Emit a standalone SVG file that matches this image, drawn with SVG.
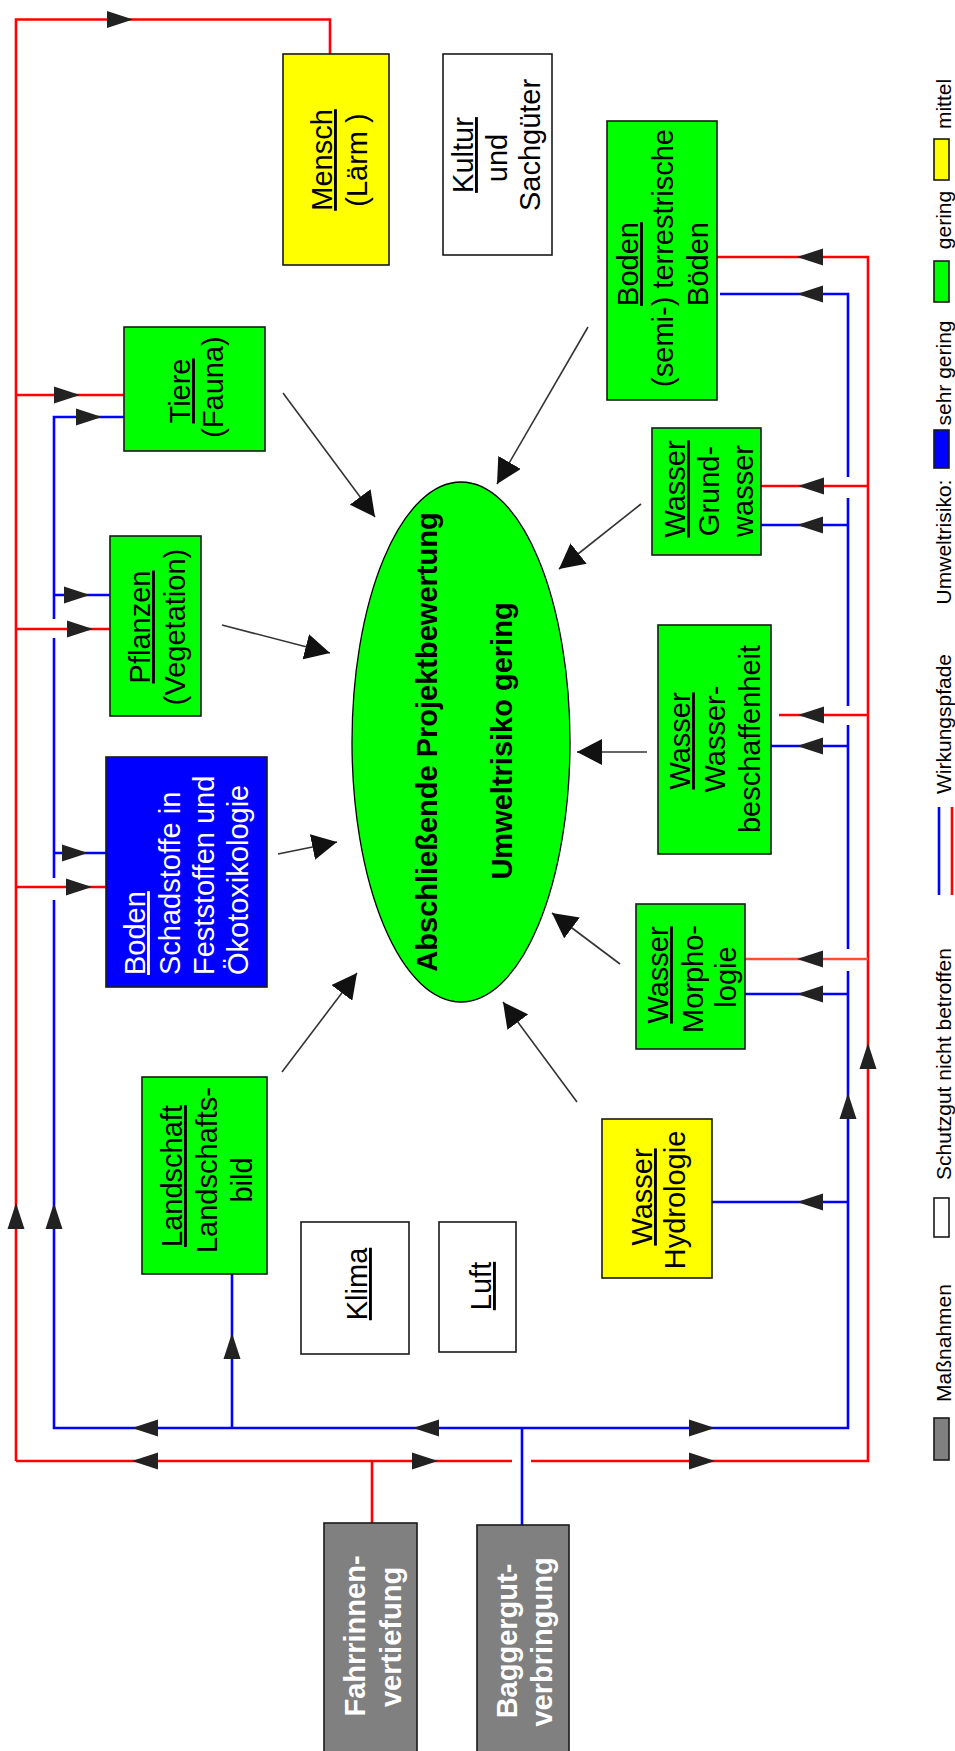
<svg xmlns="http://www.w3.org/2000/svg" xmlns:xlink="http://www.w3.org/1999/xlink" width="955" height="1751" viewBox="0 0 955 1751">
<style>
text{font-family:"Liberation Sans",Arial,sans-serif;font-size:29px;fill:#000;text-anchor:middle}
.w{fill:#fff}
.b{font-weight:bold}
.lg{font-size:21px}
.u{text-decoration:underline}
.box{stroke:#1a1a1a;stroke-width:1.6}
.green{fill:#00ff00}.yellow{fill:#ffff00}.blue{fill:#0000ff}.gray{fill:#808080}.white{fill:#fff}
.r{stroke:#ff0000;stroke-width:2.6;fill:none}
.ro{stroke:#ff4d33;stroke-width:2.6;fill:none}
.bl{stroke:#0000ff;stroke-width:2.6;fill:none}
.k{stroke:#333;stroke-width:1.6;fill:none;marker-end:url(#ah)}
.h{fill:#222}
</style>
<defs>
<marker id="ah" markerUnits="userSpaceOnUse" markerWidth="26" markerHeight="26" viewBox="0 0 26 26" refX="25" refY="13" orient="auto"><path d="M0,0 L25,13 L0,26 z" fill="#111"/></marker>
<path id="tri" d="M0,0 L-26,-8.5 L-26,8.5 Z"/>
</defs>

<g id="connectors">
<!-- red network -->
<path class="r" d="M16,1461 V19.5 H330 V54"/>
<path class="r" d="M16,395 H124"/>
<path class="r" d="M16,629 H110"/>
<path class="r" d="M16,887 H106"/>
<path class="r" d="M16,1461 H512 M531,1461 H868 V257 H717"/>
<path class="r" d="M372,1461 V1523"/>
<path class="r" d="M868,486 H761"/>
<path class="r" d="M868,715 H779"/>
<path class="ro" d="M868,959 H745"/>
<!-- blue network -->
<path class="bl" d="M124,417 H54 V619 M54,638 V878 M54,900 V1428 H848 V1093"/>
<path class="bl" d="M848,1093 V971 M848,949 V725 M848,706 V498 M848,477 V294 H720"/>
<path class="bl" d="M54,595 H110"/>
<path class="bl" d="M54,853 H106"/>
<path class="bl" d="M232,1428 V1274"/>
<path class="bl" d="M522,1428 V1525"/>
<path class="bl" d="M848,525 H761"/>
<path class="bl" d="M848,746 H771"/>
<path class="bl" d="M848,994 H745"/>
<path class="bl" d="M848,1202 H712"/>
<!-- arrowheads on paths -->
<g class="h">
<use xlink:href="#tri" transform="translate(133,19.5)"/>
<use xlink:href="#tri" transform="translate(80,395)"/>
<use xlink:href="#tri" transform="translate(93,629)"/>
<use xlink:href="#tri" transform="translate(92,887)"/>
<use xlink:href="#tri" transform="translate(16,1203) rotate(-90)"/>
<use xlink:href="#tri" transform="translate(132,1461) rotate(180)"/>
<use xlink:href="#tri" transform="translate(438,1461)"/>
<use xlink:href="#tri" transform="translate(715,1461)"/>
<use xlink:href="#tri" transform="translate(868,1043) rotate(-90)"/>
<use xlink:href="#tri" transform="translate(797,257) rotate(180)"/>
<use xlink:href="#tri" transform="translate(798,486) rotate(180)"/>
<use xlink:href="#tri" transform="translate(798,715) rotate(180)"/>
<use xlink:href="#tri" transform="translate(797,959) rotate(180)"/>
<use xlink:href="#tri" transform="translate(102,417)"/>
<use xlink:href="#tri" transform="translate(90,595)"/>
<use xlink:href="#tri" transform="translate(88,853)"/>
<use xlink:href="#tri" transform="translate(54,1203) rotate(-90)"/>
<use xlink:href="#tri" transform="translate(132,1428) rotate(180)"/>
<use xlink:href="#tri" transform="translate(413,1428) rotate(180)"/>
<use xlink:href="#tri" transform="translate(715,1428)"/>
<use xlink:href="#tri" transform="translate(232,1333) rotate(-90)"/>
<use xlink:href="#tri" transform="translate(848,1093) rotate(-90)"/>
<use xlink:href="#tri" transform="translate(797,294) rotate(180)"/>
<use xlink:href="#tri" transform="translate(797,525) rotate(180)"/>
<use xlink:href="#tri" transform="translate(797,746) rotate(180)"/>
<use xlink:href="#tri" transform="translate(797,994) rotate(180)"/>
<use xlink:href="#tri" transform="translate(797,1202) rotate(180)"/>
</g>
<!-- arrows to assessment -->
<line class="k" x1="283" y1="393" x2="375" y2="517"/>
<line class="k" x1="588" y1="327" x2="497" y2="484"/>
<line class="k" x1="641" y1="504" x2="559" y2="569"/>
<line class="k" x1="222" y1="625" x2="330" y2="653"/>
<line class="k" x1="647" y1="752" x2="577" y2="752"/>
<line class="k" x1="278" y1="854" x2="337" y2="842"/>
<line class="k" x1="282" y1="1072" x2="357" y2="973"/>
<line class="k" x1="620" y1="964" x2="552" y2="913"/>
<line class="k" x1="577" y1="1102" x2="503" y2="1002"/>
</g>

<g id="mensch">
<rect class="box yellow" x="283" y="54" width="106" height="211"/>
<text transform="rotate(-90)"><tspan class="u" x="-160" y="332">Mensch</tspan><tspan x="-160" y="367">(Lärm )</tspan></text>
</g>
<g id="kultur">
<rect class="box white" x="443" y="54" width="109" height="201"/>
<text transform="rotate(-90)"><tspan class="u" x="-155" y="473">Kultur</tspan><tspan x="-158" y="507">und</tspan><tspan x="-145" y="540">Sachgüter</tspan></text>
</g>
<g id="tiere">
<rect class="box green" x="124" y="327" width="141" height="124"/>
<text transform="rotate(-90)"><tspan class="u" x="-391" y="190">Tiere</tspan><tspan x="-387" y="223">(Fauna)</tspan></text>
</g>
<g id="pflanzen">
<rect class="box green" x="110" y="536" width="91" height="180"/>
<text transform="rotate(-90)"><tspan class="u" x="-627" y="150">Pflanzen</tspan><tspan x="-627" y="185">(Vegetation)</tspan></text>
</g>
<g id="boden-schadstoffe">
<rect class="box blue" x="106" y="757" width="161" height="230"/>
<text class="w" transform="rotate(-90)" style="text-anchor:start"><tspan class="u" x="-975" y="145">Boden</tspan><tspan x="-975" y="180">Schadstoffe in</tspan><tspan x="-975" y="214">Feststoffen und</tspan><tspan x="-975" y="248">Ökotoxikologie</tspan></text>
</g>
<g id="landschaft">
<rect class="box green" x="142" y="1077" width="125" height="197"/>
<text transform="rotate(-90)"><tspan class="u" x="-1176" y="182">Landschaft</tspan><tspan x="-1170" y="217">Landschafts-</tspan><tspan x="-1180" y="252">bild</tspan></text>
</g>
<g id="klima">
<rect class="box white" x="301" y="1222" width="108" height="132"/>
<text transform="rotate(-90)"><tspan class="u" x="-1284" y="367">Klima</tspan></text>
</g>
<g id="luft">
<rect class="box white" x="439" y="1222" width="77" height="130"/>
<text transform="rotate(-90)"><tspan class="u" x="-1286" y="491">Luft</tspan></text>
</g>
<g id="boden-terrestrisch">
<rect class="box green" x="607" y="121" width="110" height="279"/>
<text transform="rotate(-90)"><tspan class="u" x="-264" y="638">Boden</tspan><tspan x="-258" y="673">(semi-) terrestrische</tspan><tspan x="-264" y="708">Böden</tspan></text>
</g>
<g id="grundwasser">
<rect class="box green" x="652" y="428" width="109" height="127"/>
<text transform="rotate(-90)"><tspan class="u" x="-489" y="685">Wasser</tspan><tspan x="-491" y="719">Grund-</tspan><tspan x="-491" y="753">wasser</tspan></text>
</g>
<g id="wasserbeschaffenheit">
<rect class="box green" x="658" y="625" width="113" height="229"/>
<text transform="rotate(-90)"><tspan class="u" x="-741" y="690">Wasser</tspan><tspan x="-739" y="725">Wasser-</tspan><tspan x="-739" y="760">beschaffenheit</tspan></text>
</g>
<g id="morphologie">
<rect class="box green" x="636" y="904" width="109" height="145"/>
<text transform="rotate(-90)"><tspan class="u" x="-975" y="668">Wasser</tspan><tspan x="-979" y="703">Morpho-</tspan><tspan x="-977" y="736">logie</tspan></text>
</g>
<g id="hydrologie">
<rect class="box yellow" x="602" y="1119" width="110" height="159"/>
<text transform="rotate(-90)"><tspan class="u" x="-1197" y="652">Wasser</tspan><tspan x="-1200" y="685">Hydrologie</tspan></text>
</g>
<g id="bewertung">
<ellipse cx="461" cy="742" rx="109" ry="260" fill="#00ff00" stroke="#000" stroke-width="1.3"/>
<text class="b" transform="rotate(-90)"><tspan x="-742" y="437">Abschließende Projektbewertung</tspan><tspan x="-741" y="512">Umweltrisiko gering</tspan></text>
</g>
<g id="fahrrinnen">
<rect class="box gray" x="324" y="1523" width="93" height="240"/>
<text class="w b" transform="rotate(-90)"><tspan x="-1636" y="365">Fahrrinnen-</tspan><tspan x="-1637" y="401">vertiefung</tspan></text>
</g>
<g id="baggergut">
<rect class="box gray" x="477" y="1525" width="92" height="240"/>
<text class="w b" transform="rotate(-90)"><tspan x="-1641" y="517">Baggergut-</tspan><tspan x="-1642" y="552">verbringung</tspan></text>
</g>

<g id="legend">
<text class="lg" transform="rotate(-90)"><tspan x="-104" y="951">mittel</tspan><tspan x="-220" y="951">gering</tspan><tspan x="-373" y="951">sehr gering</tspan><tspan x="-542" y="951">Umweltrisiko:</tspan><tspan x="-724" y="951">Wirkungspfade</tspan><tspan x="-1064" y="951">Schutzgut nicht betroffen</tspan><tspan x="-1343" y="951">Maßnahmen</tspan></text>
<rect class="box yellow" x="934" y="139" width="15" height="41"/>
<rect class="box green" x="934" y="261" width="15" height="41"/>
<rect class="box blue" x="934" y="430" width="15" height="38"/>
<line class="bl" x1="939" y1="807" x2="939" y2="895"/>
<line class="r" x1="952" y1="807" x2="952" y2="895"/>
<rect class="box white" x="934" y="1198" width="15" height="39"/>
<rect class="box gray" x="934" y="1418" width="15" height="42"/>
</g>
</svg>
